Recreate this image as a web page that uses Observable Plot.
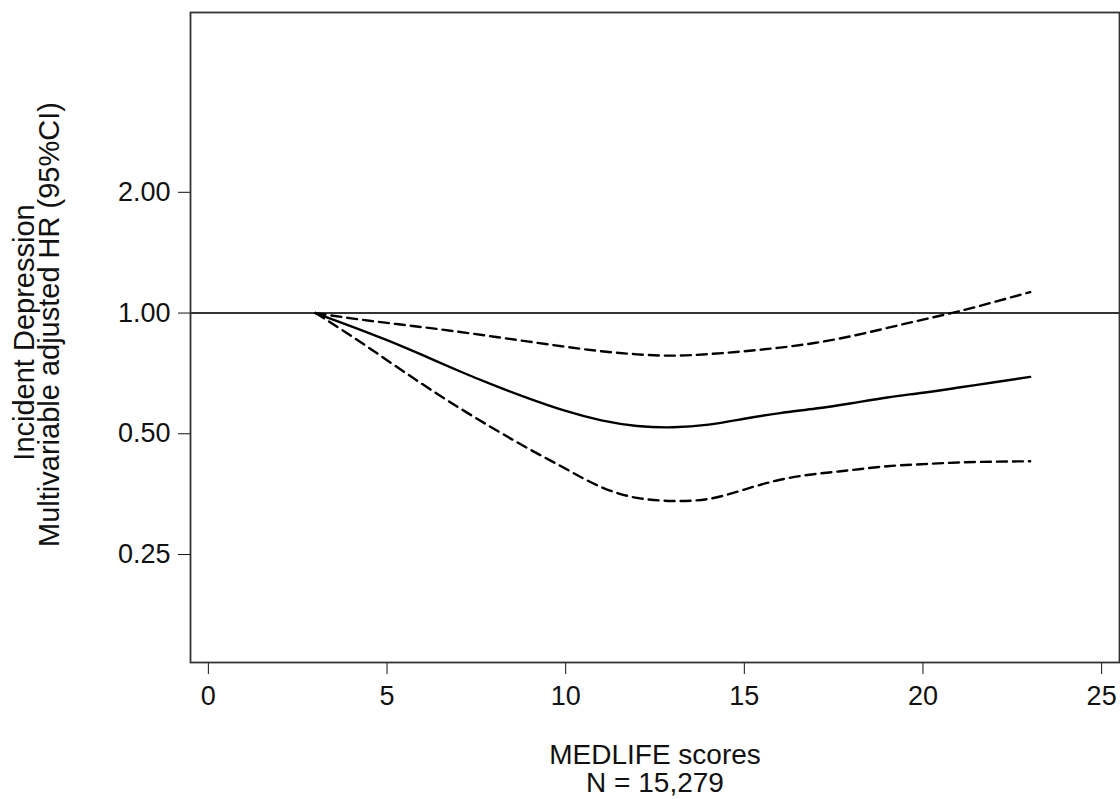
<!DOCTYPE html>
<html><head><meta charset="utf-8">
<script src="https://cdn.jsdelivr.net/npm/d3@7"></script>
<script src="https://cdn.jsdelivr.net/npm/@observablehq/plot@0.6"></script>
<style>body{margin:0;background:#fff}</style>
</head><body><div id="chart"></div>
<script>
const scores = [3,4,5,6,7,8,9,10,11,12,13,14,15,16,17,18,19,20,21,22,23];
const hr     = [1.00,0.927,0.856,0.785,0.718,0.660,0.611,0.570,0.540,0.523,0.519,0.527,0.545,0.563,0.578,0.596,0.616,0.633,0.652,0.672,0.693];
const lower  = [1.00,0.877,0.763,0.664,0.582,0.514,0.457,0.409,0.368,0.346,0.340,0.344,0.363,0.384,0.397,0.406,0.415,0.420,0.424,0.426,0.427];
const upper  = [1.00,0.970,0.945,0.922,0.898,0.873,0.848,0.824,0.803,0.789,0.783,0.790,0.803,0.820,0.843,0.876,0.918,0.963,1.010,1.066,1.128];
const yTicks = [0.25,0.5,1,2];
const xTicks = [0,5,10,15,20,25];
const refValue = [1];
const xTitle = ["MEDLIFE scores"];
const nLabel = ["N = 15,279"];
const yTitle1 = ["Incident Depression"];
const yTitle2 = ["Multivariable adjusted HR (95%CI)"];

const rows = scores.map((s,i)=>({s, hr:hr[i], lo:lower[i], hi:upper[i]}));
const lineOpts = {x:"s", stroke:"#000", strokeWidth:2.4, curve:"natural"};
const titleFont = {fontSize:28};
const yTitleFont = {fontSize:29};

const chart = Plot.plot({
  width:1120, height:799,
  marginLeft:190, marginRight:1, marginTop:12, marginBottom:137,
  style:{fontFamily:"'Liberation Sans', Arial, sans-serif", fontSize:"27px", color:"#111", background:"#fff"},
  x:{domain:[-0.5,25.5], ticks:xTicks, tickSize:12, tickPadding:11, label:null},
  y:{type:"log", domain:[0.1345,5.615], ticks:yTicks, tickFormat:d=>d.toFixed(2), tickSize:12, tickPadding:8, label:null},
  marks:[
    Plot.ruleY(refValue, {stroke:"#333", strokeWidth:2}),
    Plot.line(rows, {...lineOpts, y:"hi", strokeDasharray:"10,6"}),
    Plot.line(rows, {...lineOpts, y:"lo", strokeDasharray:"10,6"}),
    Plot.line(rows, {...lineOpts, y:"hr"}),
    Plot.frame({stroke:"#333", strokeWidth:1.8}),
    Plot.text(yTitle1, {...yTitleFont, text:d=>d, frameAnchor:"left", rotate:-90, textAnchor:"middle", lineAnchor:"bottom", dx:-157, dy:-5}),
    Plot.text(yTitle2, {...yTitleFont, text:d=>d, frameAnchor:"left", rotate:-90, textAnchor:"middle", lineAnchor:"bottom", dx:-132, dy:-13}),
    Plot.text(xTitle, {...titleFont, text:d=>d, frameAnchor:"bottom", lineAnchor:"bottom", dy:101}),
    Plot.text(nLabel, {...titleFont, text:d=>d, frameAnchor:"bottom", lineAnchor:"bottom", dy:129})
  ]
});
document.getElementById("chart").appendChild(chart);
</script>
</body></html>
